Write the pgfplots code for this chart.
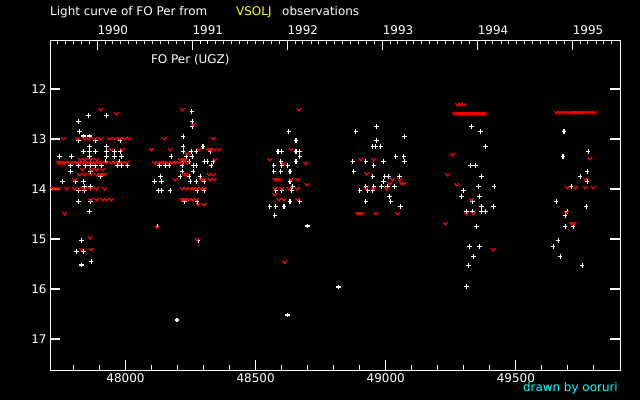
\documentclass[border=0pt]{standalone}
\usepackage{pgfplots}
\usepackage{pgfplotstable}
\pgfplotsset{compat=1.18}
\usepackage{fontspec}
\setmainfont{DejaVu Sans}
\pgfdeclareplotmark{vmark}{%
  \pgfpathmoveto{\pgfqpoint{-1\pgfplotmarksize}{0.6\pgfplotmarksize}}%
  \pgfpathlineto{\pgfqpoint{0pt}{-0.6\pgfplotmarksize}}%
  \pgfpathlineto{\pgfqpoint{1\pgfplotmarksize}{0.6\pgfplotmarksize}}%
  \pgfusepathqstroke}
\definecolor{vyellow}{RGB}{255,255,0}
\definecolor{vcyan}{RGB}{0,255,255}

% visual estimates (MJD, magnitude)
\pgfplotstableread{
mjd mag
47858 12.53
47927 12.53
47820 12.65
47823 12.85
47839 12.94
47862 12.94
47820 13.03
47885 13.03
47980 13.03
47862 13.15
47927 13.15
47839 13.25
47862 13.25
47885 13.25
47927 13.25
47958 13.25
47980 13.25
47747 13.35
47793 13.35
47862 13.35
47927 13.35
47958 13.35
47984 13.35
47923 13.45
47977 13.45
47789 13.53
47820 13.53
47846 13.53
47866 13.53
47885 13.53
47908 13.53
47969 13.53
47984 13.53
48007 13.53
47789 13.65
47866 13.65
47904 13.75
47758 13.85
47808 13.85
47839 13.85
47843 13.95
47866 13.95
47820 14.03
47843 14.03
47820 14.25
47866 14.25
47862 14.45
47831 15.03
47812 15.25
47839 15.25
47868 15.45
47831 15.52
48255 12.45
48256 12.65
48256 12.75
48222 12.95
48222 13.15
48298 13.15
48222 13.25
48252 13.25
48272 13.25
48325 13.25
48176 13.35
48233 13.35
48256 13.35
48222 13.45
48245 13.45
48302 13.45
48314 13.45
48337 13.45
48130 13.53
48153 13.53
48168 13.53
48218 13.53
48260 13.53
48272 13.53
48329 13.53
48218 13.65
48260 13.65
48134 13.75
48210 13.75
48245 13.75
48287 13.75
48111 13.85
48138 13.85
48249 13.85
48272 13.85
48302 13.85
48126 14.03
48138 14.03
48172 14.03
48275 14.03
48302 14.03
48226 14.25
48275 14.25
48122 14.75
48279 15.03
48198 16.62
48628 12.85
48655 13.03
48586 13.25
48601 13.25
48655 13.25
48670 13.25
48670 13.35
48597 13.45
48655 13.45
48570 13.53
48601 13.53
48624 13.53
48570 13.65
48597 13.65
48632 13.65
48632 13.85
48643 13.95
48578 14.03
48601 14.03
48639 14.03
48632 14.25
48670 14.25
48555 14.35
48578 14.35
48609 14.35
48574 14.53
48700 14.74
48623 16.52
48965 12.75
48885 12.85
49072 12.95
48965 13.03
48950 13.15
48962 13.15
48981 13.15
49039 13.35
49069 13.35
48873 13.45
48923 13.45
48992 13.45
49072 13.45
48954 13.53
48877 13.65
48950 13.75
48996 13.75
49011 13.75
49053 13.75
48992 13.85
48923 13.95
48954 13.95
48984 13.95
49007 13.95
49034 13.95
48900 14.03
48931 14.03
48950 14.03
49015 14.15
48923 14.25
49019 14.25
49057 14.35
48818 15.96
49329 12.75
49364 12.85
49383 13.15
49326 13.53
49345 13.53
49368 13.75
49356 13.95
49417 13.95
49299 14.03
49291 14.15
49360 14.15
49333 14.25
49368 14.35
49414 14.35
49310 14.45
49333 14.45
49368 14.45
49383 14.45
49348 14.75
49322 15.15
49360 15.15
49337 15.35
49318 15.53
49310 15.95
49685 12.85
49778 13.25
49681 13.35
49774 13.65
49747 13.75
49774 13.85
49712 13.95
49655 14.25
49770 14.35
49697 14.45
49689 14.53
49689 14.75
49720 14.75
49662 15.03
49643 15.15
49670 15.35
49755 15.53
}\obsdata

% "fainter than" observations (MJD, limit)
\pgfplotstableread{
mjd mag
47904 12.41
47965 12.49
47762 12.99
47816 12.99
47843 12.99
47858 12.99
47881 12.99
47904 12.99
47938 12.99
47958 12.99
47977 12.99
47996 12.99
48015 12.99
47946 13.21
47988 13.21
47827 13.41
47843 13.41
47866 13.41
47889 13.41
47742 13.47
47750 13.47
47758 13.47
47766 13.47
47785 13.47
47800 13.47
47812 13.47
47824 13.47
47836 13.47
47848 13.47
47860 13.47
47872 13.47
47884 13.47
47896 13.47
47908 13.47
47925 13.47
47945 13.47
47960 13.47
47975 13.47
47990 13.47
48005 13.47
47835 13.61
47869 13.61
47889 13.61
47912 13.61
47823 13.71
47843 13.71
47866 13.71
47889 13.71
47900 13.71
47910 13.71
47919 13.71
47804 13.81
47720 13.99
47731 13.99
47743 13.99
47774 13.99
47804 13.99
47820 13.99
47843 13.99
47866 13.99
47889 13.99
47919 13.99
47866 14.21
47889 14.21
47912 14.21
47927 14.21
47946 14.21
47766 14.49
47864 14.97
47831 15.21
47868 15.21
48218 12.41
48260 12.71
48149 12.99
48337 12.99
48099 13.21
48172 13.21
48283 13.21
48318 13.21
48325 13.21
48330 13.21
48341 13.21
48360 13.21
48237 13.29
48210 13.41
48222 13.41
48230 13.41
48344 13.41
48111 13.47
48126 13.47
48138 13.47
48149 13.47
48164 13.47
48180 13.47
48191 13.47
48207 13.47
48218 13.47
48237 13.47
48226 13.71
48233 13.71
48321 13.71
48337 13.71
48191 13.81
48291 13.81
48298 13.81
48325 13.81
48341 13.81
48218 13.99
48233 13.99
48249 13.99
48260 13.99
48275 13.99
48291 13.99
48302 13.99
48214 14.21
48222 14.21
48230 14.21
48245 14.21
48260 14.21
48272 14.21
48279 14.31
48302 14.31
48122 14.76
48275 15.01
48666 12.41
48636 13.21
48555 13.41
48609 13.49
48693 13.49
48574 13.81
48582 13.81
48593 13.81
48636 13.81
48662 13.81
48697 13.91
48574 13.99
48601 13.99
48628 13.99
48659 13.99
48574 14.11
48590 14.21
48609 14.21
48662 14.21
48611 15.46
48904 13.41
48954 13.41
48927 13.69
49026 13.81
49053 13.81
49015 13.89
49061 13.89
49069 13.89
48923 13.99
48954 13.99
49003 13.99
48892 14.49
48900 14.49
48908 14.49
48962 14.49
49045 14.49
49276 12.31
49287 12.31
49299 12.31
49264 12.49
49272 12.49
49280 12.49
49287 12.49
49295 12.49
49303 12.49
49310 12.49
49318 12.49
49326 12.49
49333 12.49
49341 12.49
49349 12.49
49356 12.49
49364 12.49
49372 12.49
49379 12.49
49256 13.31
49237 13.71
49272 13.91
49329 14.21
49310 14.49
49337 14.49
49229 14.69
49413 15.21
49656 12.47
49667 12.47
49678 12.47
49689 12.47
49700 12.47
49712 12.47
49720 12.47
49728 12.47
49736 12.47
49744 12.47
49751 12.47
49759 12.47
49770 12.47
49781 12.47
49792 12.47
49803 12.47
49785 13.39
49766 13.80
49697 13.97
49728 13.97
49766 13.97
49797 13.97
49693 14.47
49716 14.69
49724 14.69
}\limdata

\begin{document}
\begin{tikzpicture}
\fill[black] (0bp,0bp) rectangle (640bp,400bp);
% top axis: calendar years
\begin{axis}[at={(50bp,30bp)}, anchor=south west, scale only axis,
  width=570bp, height=330bp,
  xmin=47710, xmax=49900, ymin=11.02, ymax=17.62, y dir=reverse,
  scaled x ticks=false,
  axis line style={white, line width=1bp},
  tick style={white, line width=1.2bp},
  major tick length=10bp,
  ticklabel style={white, font=\fontsize{12}{14}\selectfont},
  xtick={47892,48257,48622,48988,49353,49718},
  xticklabels={1990,1991,1992,1993,1994,1995},
  xtick pos=top, xticklabel pos=top,
  xticklabel style={anchor=base west, inner xsep=0pt, yshift=6bp},
  ytick=\empty,
]
\pgfplotsinvokeforeach{47739,47770,47800,47831,47861,
    47923,47951,47982,48012,48043,48073,48104,48135,48165,48196,48226,
    48288,48316,48347,48377,48408,48438,48469,48500,48530,48561,48591,
    48653,48682,48713,48743,48774,48804,48835,48866,48896,48927,48957,
    49019,49047,49078,49108,49139,49169,49200,49231,49261,49292,49322,
    49384,49412,49443,49473,49504,49534,49565,49596,49626,49657,49687,
    49749,49777,49808,49838,49869}{%
  \draw[white, line width=1bp] (axis cs:#1,11.02) -- ++(0bp,-4bp);}
\pgfplotsinvokeforeach{47892,48257,48622,48988,49353,49718}{%
  \draw[white, line width=1bp] (axis cs:#1,11.02) -- ++(0bp,-10bp);}
\end{axis}
% main axis
\begin{axis}[at={(50bp,30bp)}, anchor=south west, scale only axis,
  width=570bp, height=330bp,
  xmin=47710, xmax=49900, ymin=11.02, ymax=17.62, y dir=reverse,
  scaled x ticks=false,
  axis line style={white, line width=1bp},
  tick style={white, line width=1.2bp},
  major tick length=10bp,
  ticklabel style={white, font=\fontsize{12}{14}\selectfont},
  xtick={48000,48500,49000,49500},
  xticklabels={48000,48500,49000,49500},
  xtick pos=bottom, xticklabel pos=bottom,
  ytick={12,13,14,15,16,17},
  yticklabels={12,13,14,15,16,17},
]
\addplot[only marks, mark=+, mark size=2.2bp, white, line width=1.1bp] table[x=mjd, y=mag] {\obsdata};
\addplot[only marks, mark=vmark, mark size=2.2bp, red, line width=1.2bp] table[x=mjd, y=mag] {\limdata};
\pgfplotsinvokeforeach{47800,47900,48100,48200,48300,48400,48600,48700,48800,48900,49100,49200,49300,49400,49600,49700,49800}{%
  \draw[white, line width=1bp] (axis cs:#1,17.62) -- ++(0bp,5bp);}
\pgfplotsinvokeforeach{48000,48500,49000,49500}{%
  \draw[white, line width=1bp] (axis cs:#1,17.62) -- ++(0bp,10bp);}
\pgfplotsinvokeforeach{12,13,14,15,16,17}{%
  \draw[white, line width=1bp] (axis cs:47710,#1) -- ++(10bp,0bp);
  \draw[white, line width=1bp] (axis cs:49900,#1) -- ++(-10bp,0bp);}
\node[white, anchor=base west, inner sep=0pt, font=\fontsize{12}{14}\selectfont] at (rel axis cs:0.177,0.93) {FO Per (UGZ)};
\end{axis}
\node[white, anchor=base west, inner sep=0pt, font=\fontsize{12}{14}\selectfont] at (50bp,384bp) {Light curve of FO Per from};
\node[vyellow, anchor=base west, inner sep=0pt, font=\fontsize{12}{14}\selectfont] at (236bp,384bp) {VSOLJ};
\node[white, anchor=base west, inner sep=0pt, font=\fontsize{12}{14}\selectfont] at (282bp,384bp) {observations};
\node[vcyan, anchor=base east, inner sep=0pt, font=\fontsize{12}{14}\selectfont] at (618bp,8.5bp) {drawn by ooruri};
\end{tikzpicture}
\end{document}
